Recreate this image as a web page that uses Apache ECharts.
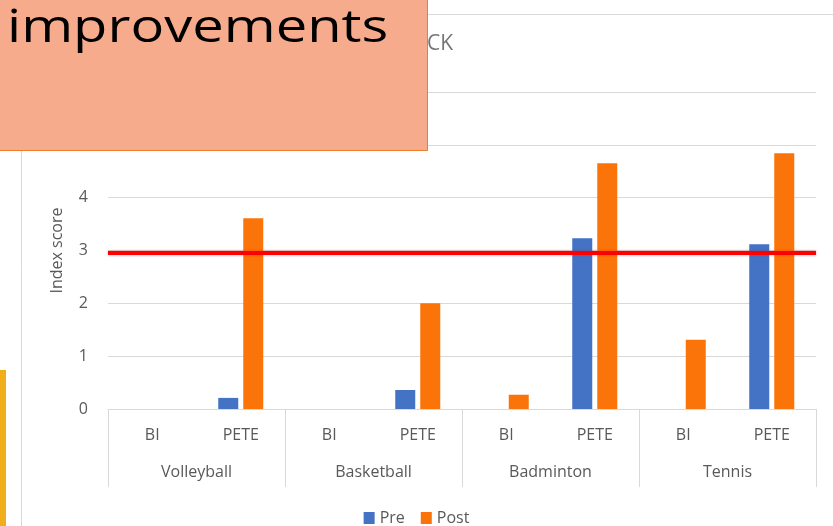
<!DOCTYPE html>
<html>
<head>
<meta charset="utf-8">
<script src="https://cdn.jsdelivr.net/npm/echarts@6/dist/echarts.min.js"></script>
<style>
  html, body { margin: 0; padding: 0; background: #fff; }
  #chart { width: 833px; height: 526px; }
</style>
</head>
<body>
<div id="chart"></div>
<script>
// data
var sports = ['Volleyball', 'Basketball', 'Badminton', 'Tennis'];
var groups = ['BI', 'PETE', 'BI', 'PETE', 'BI', 'PETE', 'BI', 'PETE'];
var preData = [0, 0.21, 0, 0.36, 0, 3.23, 0, 3.12];
var postData = [0, 3.61, 0, 2.0, 0.27, 4.65, 1.31, 4.84];
var threshold = 2.95;
var yTicks = [0, 6, 1]; // min, max, step

var txt = '#595959';
var gridCol = '#d9d9d9';

var myChart = echarts.init(document.getElementById('chart'));

var option = {
    animation: false,
    textStyle: { fontFamily: 'Open Sans' },
    grid: { left: 108, right: 17, top: 92, bottom: 117 },
    legend: {
        top: 505,
        left: 'center',
        itemWidth: 11,
        itemHeight: 12,
        itemGap: 16,
        icon: 'rect',
        textStyle: { color: txt, fontSize: 16 },
        data: ['Pre', 'Post']
    },
    xAxis: [{
        type: 'category',
        data: groups,
        axisTick: { show: false },
        axisLine: { lineStyle: { color: gridCol } },
        axisLabel: { color: txt, fontSize: 16, margin: 18, interval: 0 }
    }, {
        type: 'category',
        data: sports,
        position: 'bottom',
        axisLine: { show: false },
        axisTick: { show: true, length: 78, lineStyle: { color: gridCol } },
        axisLabel: { color: txt, fontSize: 16, margin: 55, interval: 0 }
    }],
    yAxis: {
        type: 'value',
        min: yTicks[0],
        max: yTicks[1],
        interval: yTicks[2],
        name: 'Index score',
        nameLocation: 'middle',
        nameGap: 43,
        nameTextStyle: { color: txt, fontSize: 16 },
        axisLabel: { color: txt, fontSize: 16, margin: 20 },
        axisLine: { show: false },
        splitLine: { lineStyle: { color: gridCol } }
    },
    series: [{
        name: 'Pre',
        type: 'bar',
        data: preData,
        barWidth: 20,
        barGap: '25%',
        itemStyle: { color: '#4472C4' }
    }, {
        name: 'Post',
        type: 'bar',
        data: postData,
        barWidth: 20,
        itemStyle: { color: '#FB7409' },
        markLine: {
            silent: true,
            symbol: 'none',
            label: { show: false },
            lineStyle: { color: '#ff0000', width: 4, type: 'solid', shadowColor: 'rgba(255,0,0,0.4)', shadowBlur: 3 },
            data: [{ yAxis: threshold }]
        }
    }],
    graphic: [
        // chart frame
        { type: 'rect', left: 19, top: 12, z: -1, silent: true,
          shape: { width: 900, height: 600 },
          style: { fill: 'none', stroke: gridCol, lineWidth: 1 } },
        // yellow strip at the left edge
        { type: 'rect', left: 0, top: 370, z: 10, silent: true,
          shape: { width: 6, height: 160 },
          style: { fill: '#EFAE1A' } },
        // title tail
        { type: 'text', right: 833 - 453, top: 34, z: 5, silent: true,
          style: { text: 'FEEDBACK', fill: '#767676', font: '21px Open Sans' } },
        // overlay box
        { type: 'rect', left: -1, top: -1, z: 100, silent: true,
          shape: { width: 428, height: 151 },
          style: { fill: '#F6AC8C', stroke: '#ED7D31', lineWidth: 1 } },
        { type: 'text', x: 7, y: 29, z: 101, silent: true, scaleX: 1.22,
          style: { text: 'improvements', fill: '#000', font: '46px Open Sans', verticalAlign: 'middle' } }
    ]
};

myChart.setOption(option);
window.addEventListener('resize', function () {
    myChart.resize();
});
</script>
</body>
</html>
